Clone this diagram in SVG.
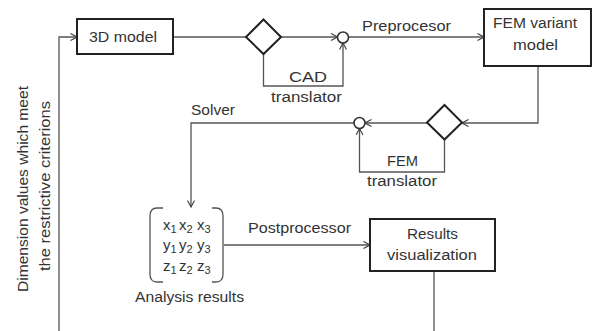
<svg xmlns="http://www.w3.org/2000/svg" width="593" height="331" viewBox="0 0 593 331">
  <style>
    .box { fill: #fff; stroke: #222; stroke-width: 2; }
    .gate { fill: #fff; stroke: #222; stroke-width: 2; }
    .join { fill: #fff; stroke: #333; stroke-width: 1.6; }
    .wire { fill: none; stroke: #555; stroke-width: 1.3; }
    .lbl { font-family: "Liberation Sans", Arial, sans-serif; font-size: 14px; fill: #333; text-anchor: middle; }
    .mx { font-family: "Liberation Sans", Arial, sans-serif; font-size: 15px; fill: #333; }
    .sub { font-size: 11px; }
  </style>
  <defs>
    <marker id="arr" viewBox="0 0 8 8" refX="7.5" refY="4" markerWidth="8" markerHeight="8" markerUnits="userSpaceOnUse" orient="auto">
      <path d="M1,0.5 L7.5,4 L1,7.5" fill="none" stroke="#444" stroke-width="1.2"/>
    </marker>
  </defs>
  <rect width="593" height="331" fill="#fff"/>

  <g id="connectors">
    <!-- feedback loop back to the 3D model -->
    <path class="wire" d="M59,331 L59,37 L77,37" marker-end="url(#arr)"/>
    <!-- 3D model to CAD branch -->
    <path class="wire" d="M173,37 L246,37"/>
    <path class="wire" d="M281,37 L337.5,37" marker-end="url(#arr)"/>
    <path class="wire" d="M263.5,54 L263.5,86 L343,86 L343,43" marker-end="url(#arr)"/>
    <!-- preprocessor -->
    <path class="wire" d="M348.5,37 L484,37" marker-end="url(#arr)"/>
    <!-- FEM variant down to FEM branch -->
    <path class="wire" d="M538,66 L538,123 L462,123" marker-end="url(#arr)"/>
    <path class="wire" d="M427,123 L365,123" marker-end="url(#arr)"/>
    <path class="wire" d="M444.5,139.5 L444.5,172 L359.5,172 L359.5,128.5" marker-end="url(#arr)"/>
    <!-- solver -->
    <path class="wire" d="M354,123 L191,123 L191,207" marker-end="url(#arr)"/>
    <!-- postprocessor -->
    <path class="wire" d="M224,245 L370,245" marker-end="url(#arr)"/>
    <!-- results out -->
    <path class="wire" d="M434,271 L434,331"/>
  </g>

  <g id="model3d">
    <rect class="box" x="77" y="19" width="96" height="35"/>
    <text class="lbl" x="123" y="42" textLength="68" lengthAdjust="spacingAndGlyphs">3D model</text>
  </g>

  <g id="cad-branch">
    <polygon class="gate" points="263.5,19.5 281,37 263.5,54 246,37"/>
  </g>

  <g id="cad-join">
    <circle class="join" cx="343" cy="37.5" r="5.5"/>
  </g>

  <g id="cad-translator">
    <text class="lbl" x="308" y="82" textLength="38" lengthAdjust="spacingAndGlyphs">CAD</text>
    <text class="lbl" x="306.5" y="102" textLength="71" lengthAdjust="spacingAndGlyphs">translator</text>
  </g>

  <g id="preprocessor">
    <text class="lbl" x="406.5" y="31" textLength="89" lengthAdjust="spacingAndGlyphs">Preprocesor</text>
  </g>

  <g id="fem-variant">
    <rect class="box" x="484" y="9" width="107" height="57"/>
    <text class="lbl" x="535" y="28" textLength="84" lengthAdjust="spacingAndGlyphs">FEM variant</text>
    <text class="lbl" x="535.5" y="50" textLength="45" lengthAdjust="spacingAndGlyphs">model</text>
  </g>

  <g id="fem-branch">
    <polygon class="gate" points="444.5,105 462,122.5 444.5,139.5 427,122.5"/>
  </g>

  <g id="fem-join">
    <circle class="join" cx="359.5" cy="123" r="5.5"/>
  </g>

  <g id="fem-translator">
    <text class="lbl" x="402.5" y="166" textLength="31" lengthAdjust="spacingAndGlyphs">FEM</text>
    <text class="lbl" x="402" y="186" textLength="70" lengthAdjust="spacingAndGlyphs">translator</text>
  </g>

  <g id="solver">
    <text class="lbl" x="213" y="115" textLength="44" lengthAdjust="spacingAndGlyphs">Solver</text>
  </g>

  <g id="analysis-results">
    <path class="wire" d="M163,208 L157,208 Q150,208 150,216 L150,274 Q150,282 157,282 L163,282"/>
    <path class="wire" d="M212,208 L216,208 Q223,208 223,216 L223,274 Q223,282 216,282 L212,282"/>
    <text class="mx" y="230"><tspan x="163">x</tspan><tspan class="sub" x="170.5" dy="3">1</tspan><tspan x="179" dy="-3">x</tspan><tspan class="sub" x="186.5" dy="3">2</tspan><tspan x="197" dy="-3">x</tspan><tspan class="sub" x="204.5" dy="3">3</tspan></text>
    <text class="mx" y="250"><tspan x="163">y</tspan><tspan class="sub" x="170.5" dy="3">1</tspan><tspan x="179" dy="-3">y</tspan><tspan class="sub" x="186.5" dy="3">2</tspan><tspan x="197" dy="-3">y</tspan><tspan class="sub" x="204.5" dy="3">3</tspan></text>
    <text class="mx" y="271"><tspan x="163">z</tspan><tspan class="sub" x="170.5" dy="3">1</tspan><tspan x="179" dy="-3">z</tspan><tspan class="sub" x="186.5" dy="3">2</tspan><tspan x="197" dy="-3">z</tspan><tspan class="sub" x="204.5" dy="3">3</tspan></text>
    <text class="lbl" x="189.5" y="302" textLength="109" lengthAdjust="spacingAndGlyphs">Analysis results</text>
  </g>

  <g id="postprocessor">
    <text class="lbl" x="299.5" y="233" textLength="103" lengthAdjust="spacingAndGlyphs">Postprocessor</text>
  </g>

  <g id="results-visualization">
    <rect class="box" x="370" y="219" width="125" height="52"/>
    <text class="lbl" x="432.5" y="239" textLength="51" lengthAdjust="spacingAndGlyphs">Results</text>
    <text class="lbl" x="432" y="260" textLength="90" lengthAdjust="spacingAndGlyphs">visualization</text>
  </g>

  <g id="feedback-label">
    <text class="lbl" transform="translate(28,189) rotate(-90)" textLength="206" lengthAdjust="spacingAndGlyphs">Dimension values which meet</text>
    <text class="lbl" transform="translate(49.5,186) rotate(-90)" textLength="170" lengthAdjust="spacingAndGlyphs">the restrictive criterions</text>
  </g>
</svg>
